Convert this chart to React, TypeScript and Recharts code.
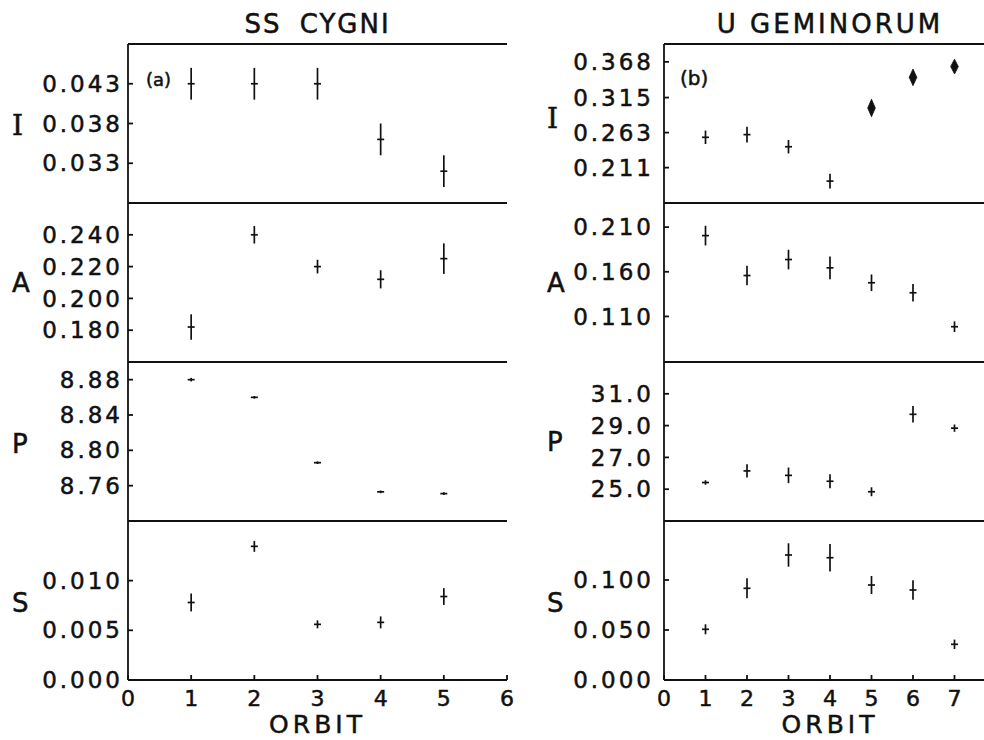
import React from 'react';
import { ScatterChart, Scatter, XAxis, YAxis, ErrorBar } from 'recharts';

// ---------- data ----------
const ssOrbits = [1, 2, 3, 4, 5];
const ssI = [0.043, 0.043, 0.043, 0.036, 0.032];
const ssIErr = [0.002, 0.002, 0.002, 0.002, 0.002];
const ssA = [0.182, 0.24, 0.22, 0.212, 0.225];
const ssAErr = [0.008, 0.0055, 0.0043, 0.0057, 0.0096];
const ssP = [8.88, 8.86, 8.786, 8.753, 8.751];
const ssPErr = [0.002, 0.0015, 0.0015, 0.0015, 0.0015];
const ssS = [0.0078, 0.01345, 0.0056, 0.0058, 0.0084];
const ssSErr = [0.0009, 0.00055, 0.0004, 0.0006, 0.00084];

const ugICrossOrbits = [1, 2, 3, 4];
const ugICross = [0.256, 0.26, 0.242, 0.191];
const ugICrossErr = [0.01, 0.0116, 0.01, 0.011];
const ugIDiamondOrbits = [5, 6, 7];
const ugIDiamond = [0.2995, 0.345, 0.361];
const ugIDiamondErr = [0.013, 0.0124, 0.011];
const ugOrbits = [1, 2, 3, 4, 5, 6, 7];
const ugA = [0.2005, 0.1558, 0.1737, 0.1644, 0.1477, 0.1365, 0.0985];
const ugAErr = [0.011, 0.011, 0.011, 0.0127, 0.0093, 0.0099, 0.006];
const ugP = [25.42, 26.15, 25.87, 25.5, 24.84, 29.71, 28.84];
const ugPErr = [0.14, 0.42, 0.49, 0.44, 0.28, 0.52, 0.23];
const ugS = [0.0507, 0.0917, 0.125, 0.1223, 0.095, 0.09, 0.0357];
const ugSErr = [0.005, 0.01, 0.0117, 0.0137, 0.009, 0.0097, 0.0047];

// tick values
const ssITicks = [0.033, 0.038, 0.043];
const ssATicks = [0.18, 0.2, 0.22, 0.24];
const ssPTicks = [8.76, 8.8, 8.84, 8.88];
const ssSTicks = [0, 0.005, 0.01];
const ugITicks = [0.211, 0.263, 0.315, 0.368];
const ugATicks = [0.11, 0.16, 0.21];
const ugPTicks = [25, 27, 29, 31];
const ugSTicks = [0, 0.05, 0.1];
const ssXTicks = [0, 1, 2, 3, 4, 5, 6];
const ugXTicks = [0, 1, 2, 3, 4, 5, 6, 7];

const build = (xs: number[], ys: number[], es: number[]) =>
  xs.map((x, i) => ({ x, y: ys[i], err: es[i] }));

// ---------- layout ----------
const H = 159;
const PAD = 10;
const ROW_TOPS = [44, 203, 362, 521];
const FONT = 'DejaVu Sans, sans-serif';
const INK = '#111';

type Col = {
  left: number;
  yAxisW: number;
  plotW: number;
  xMax: number;
  xTicks: number[];
  tickMargin: number;
  labelOffset: number;
};
const LEFT_COL: Col = { left: 0, yAxisW: 128, plotW: 379, xMax: 6, xTicks: ssXTicks, tickMargin: 10, labelOffset: 12 };
const RIGHT_COL: Col = { left: 520, yAxisW: 144, plotW: 332, xMax: 8, xTicks: ugXTicks, tickMargin: 15, labelOffset: 27 };

type Series = { data: { x: number; y: number; err: number }[]; kind: 'cross' | 'diamond' };

type PanelDef = {
  col: Col;
  row: number;
  letter: string;
  serif?: boolean;
  letterDy?: number;
  domain: [number, number];
  ticks: number[];
  digits: number;
  series: Series[];
};

const crossShape = (p: any) => (
  <line x1={p.cx - 3.5} x2={p.cx + 3.5} y1={p.cy} y2={p.cy} stroke={INK} strokeWidth={1.7} />
);

const makeDiamond = (pxPerUnit: number) => (p: any) => {
  const hh = p.payload.err * pxPerUnit;
  const hw = 3.8;
  return (
    <polygon
      points={`${p.cx},${p.cy - hh} ${p.cx + hw},${p.cy} ${p.cx},${p.cy + hh} ${p.cx - hw},${p.cy}`}
      fill={INK}
      stroke={INK}
      strokeWidth={0.8}
    />
  );
};

const Panel = ({ def }: { def: PanelDef }) => {
  const { col, row, domain } = def;
  const bottom = row === 3;
  const bottomH = bottom ? 40 : PAD;
  const width = col.yAxisW + col.plotW + 20;
  const height = PAD + H + bottomH;
  const pxPerUnit = H / (domain[1] - domain[0]);
  const lineStyle = { stroke: INK, strokeWidth: 1.8 };
  const xt = col.xTicks;
  return (
    <div style={{ position: 'absolute', left: col.left, top: ROW_TOPS[row] - PAD, width, height }}>
      <ScatterChart width={width} height={height} margin={{ top: 0, right: 20, bottom: 0, left: 0 }}>
        <XAxis
          xAxisId="b"
          type="number"
          dataKey="x"
          orientation="bottom"
          domain={[0, col.xMax]}
          ticks={xt}
          allowDataOverflow
          height={bottomH}
          tickSize={-5}
          tickMargin={bottom ? 15 : 0}
          axisLine={lineStyle}
          tickLine={lineStyle}
          tick={bottom ? { fill: INK, fontSize: 22, fontFamily: FONT, stroke: INK, strokeWidth: 0.5 } : false}
        />
        <XAxis
          xAxisId="t"
          type="number"
          dataKey="x"
          orientation="top"
          domain={[0, col.xMax]}
          ticks={xt}
          allowDataOverflow
          height={PAD}
          tickSize={-5}
          axisLine={lineStyle}
          tickLine={lineStyle}
          tick={false}
        />
        <YAxis
          yAxisId="l"
          type="number"
          dataKey="y"
          domain={domain}
          ticks={def.ticks}
          allowDataOverflow
          width={col.yAxisW}
          tickSize={-5}
          tickMargin={col.tickMargin}
          axisLine={lineStyle}
          tickLine={lineStyle}
          tick={{ fill: INK, fontSize: 23, fontFamily: FONT, letterSpacing: 3, stroke: INK, strokeWidth: 0.5 }}
          tickFormatter={(v: number) => v.toFixed(def.digits)}
          label={{
            value: def.letter,
            position: 'insideLeft',
            offset: col.labelOffset,
            fill: INK,
            stroke: INK,
            strokeWidth: 0.5,
            fontSize: def.serif ? 28 : 26,
            fontFamily: def.serif ? 'DejaVu Serif, serif' : FONT,
            dy: def.letterDy || 0,
          }}
        />
        <YAxis
          yAxisId="r"
          type="number"
          dataKey="y"
          orientation="right"
          domain={domain}
          ticks={def.ticks}
          allowDataOverflow
          width={0}
          tickSize={-5}
          axisLine={lineStyle}
          tickLine={lineStyle}
          tick={false}
        />
        {def.series.map((s, i) => (
          <Scatter
            key={i}
            xAxisId="b"
            yAxisId="l"
            data={s.data}
            isAnimationActive={false}
            shape={s.kind === 'cross' ? crossShape : makeDiamond(pxPerUnit)}
          >
            {s.kind === 'cross' ? (
              <ErrorBar dataKey="err" direction="y" width={0} stroke={INK} strokeWidth={1.7} />
            ) : null}
          </Scatter>
        ))}
      </ScatterChart>
    </div>
  );
};

const panels: PanelDef[] = [
  { col: LEFT_COL, row: 0, letter: 'I', serif: true, letterDy: 2, domain: [0.028, 0.048], ticks: ssITicks, digits: 3, series: [{ data: build(ssOrbits, ssI, ssIErr), kind: 'cross' }] },
  { col: LEFT_COL, row: 1, letter: 'A', domain: [0.16, 0.26], ticks: ssATicks, digits: 3, series: [{ data: build(ssOrbits, ssA, ssAErr), kind: 'cross' }] },
  { col: LEFT_COL, row: 2, letter: 'P', letterDy: 2, domain: [8.72, 8.9], ticks: ssPTicks, digits: 2, series: [{ data: build(ssOrbits, ssP, ssPErr), kind: 'cross' }] },
  { col: LEFT_COL, row: 3, letter: 'S', letterDy: 2, domain: [0, 0.016], ticks: ssSTicks, digits: 3, series: [{ data: build(ssOrbits, ssS, ssSErr), kind: 'cross' }] },
  {
    col: RIGHT_COL, row: 0, letter: 'I', serif: true, letterDy: -5, domain: [0.1585, 0.3945], ticks: ugITicks, digits: 3,
    series: [
      { data: build(ugICrossOrbits, ugICross, ugICrossErr), kind: 'cross' },
      { data: build(ugIDiamondOrbits, ugIDiamond, ugIDiamondErr), kind: 'diamond' },
    ],
  },
  { col: RIGHT_COL, row: 1, letter: 'A', domain: [0.059, 0.237], ticks: ugATicks, digits: 3, series: [{ data: build(ugOrbits, ugA, ugAErr), kind: 'cross' }] },
  { col: RIGHT_COL, row: 2, letter: 'P', domain: [23, 33], ticks: ugPTicks, digits: 1, series: [{ data: build(ugOrbits, ugP, ugPErr), kind: 'cross' }] },
  { col: RIGHT_COL, row: 3, letter: 'S', letterDy: 2, domain: [0, 0.159], ticks: ugSTicks, digits: 3, series: [{ data: build(ugOrbits, ugS, ugSErr), kind: 'cross' }] },
];

const textStyle = (size: number, lh?: number): React.CSSProperties => ({
  position: 'absolute',
  fontFamily: FONT,
  fontSize: size,
  lineHeight: `${lh ?? size}px`,
  color: INK,
  whiteSpace: 'nowrap',
  WebkitTextStroke: '0.5px #111',
});

export default function App() {
  return (
    <div
      style={{
        position: 'fixed',
        left: 0,
        top: 0,
        width: 984,
        height: 740,
        overflow: 'hidden',
        background: '#fff',
      }}
    >
      {panels.map((p, i) => (
        <Panel key={i} def={p} />
      ))}
      <div style={{ ...textStyle(26), left: 128, width: 379, top: 11, textAlign: 'center', letterSpacing: 2, wordSpacing: 8 }}>
        SS CYGNI
      </div>
      <div style={{ ...textStyle(26), left: 664, width: 332, top: 11, textAlign: 'center', letterSpacing: 3 }}>
        U GEMINORUM
      </div>
      <div style={{ ...textStyle(18), left: 146, top: 71 }}>(a)</div>
      <div style={{ ...textStyle(20), left: 680, top: 68 }}>(b)</div>
      <div style={{ ...textStyle(25, 20), left: 128, width: 379, top: 715.4, textAlign: 'center', letterSpacing: 4 }}>ORBIT</div>
      <div style={{ ...textStyle(25, 20), left: 664, width: 332, top: 715.4, textAlign: 'center', letterSpacing: 4 }}>ORBIT</div>
    </div>
  );
}
